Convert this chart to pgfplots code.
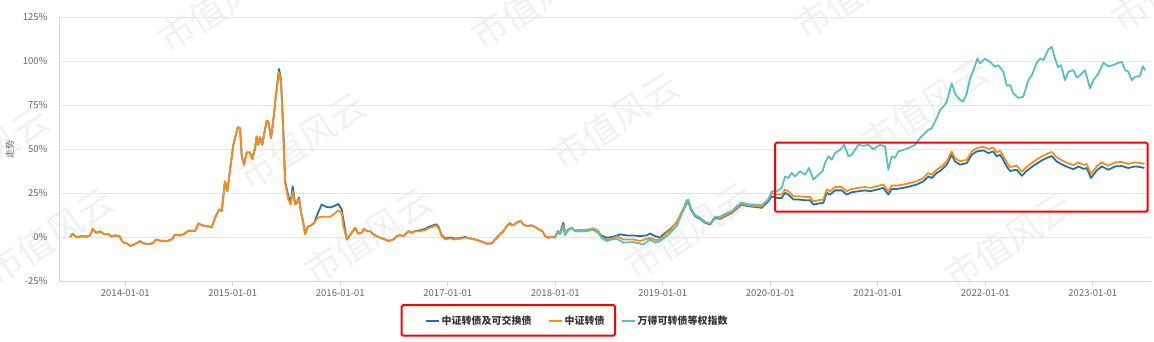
\documentclass[border=0pt]{standalone}
\usepackage{fontspec}
\setmainfont{Noto Sans CJK SC}
\usepackage{pgfplots}
\pgfplotsset{compat=1.18}
\definecolor{cblue}{RGB}{38,113,164}
\definecolor{corange}{RGB}{246,142,30}
\definecolor{ccyan}{RGB}{92,190,190}
\definecolor{gridc}{RGB}{230,230,230}
\definecolor{axisc}{RGB}{204,214,235}
\definecolor{labc}{RGB}{102,102,102}
\definecolor{legc}{RGB}{51,51,51}
\definecolor{wmc}{RGB}{241,241,241}
\begin{document}
\begin{tikzpicture}
\useasboundingbox (0pt,0pt) rectangle (1154pt,-342pt);
\begin{scope}
\clip (0pt,0pt) rectangle (1154pt,-342pt);
\foreach \cx/\cy in {222/4, 535/1, 858/-9, 1175/-16, -15/155, 302/141, 615/121, 925/107, 50/236, 368/236, 688/231, 1008/241}{
  \node[rotate=33, font=\fontsize{36}{38}\selectfont, text=wmc, inner sep=0pt] at (\cx pt,-\cy pt) {市值风云};
}
\end{scope}
\begin{axis}[
  at={(59pt,-281pt)}, anchor=south west,
  scale only axis, width=1092pt, height=264pt,
  xmin=2013.383, xmax=2023.541, ymin=-25, ymax=125,
  xtick={2014,2015,2016,2017,2018,2019,2020,2021,2022,2023},
  xticklabels={2014-01-01,2015-01-01,2016-01-01,2017-01-01,2018-01-01,2019-01-01,2020-01-01,2021-01-01,2022-01-01,2023-01-01},
  ytick={-25,0,25,50,75,100,125},
  yticklabels={-25\%,0\%,25\%,50\%,75\%,100\%,125\%},
  ymajorgrids, grid style={draw=gridc, line width=0.8pt},
  axis x line*=bottom, axis y line*=left,
  axis line style={draw=axisc, line width=0.8pt, -},
  tick align=outside, major tick length=5pt,
  xtick style={draw=axisc, line width=0.8pt},
  ytick style={draw=none},
  tick label style={font=\fontsize{9.5}{11}\selectfont, text=labc},
  yticklabel style={xshift=-3pt},
  legend columns=3,
  legend style={at={(0.4744,-0.1515)}, anchor=center, draw=none, fill=none,
    font=\fontsize{10}{12}\selectfont\bfseries, text=legc,
    /tikz/every even column/.append style={column sep=14pt}},
  legend image code/.code={\draw[#1, line width=2pt] (0pt,0pt) -- (13pt,0pt);},
  every axis plot/.append style={line width=1.8pt, line join=round},
]
\addplot[cblue, mark=none] coordinates {
(2013.486,0.0) (2013.511,1.9) (2013.548,-0.2) (2013.594,0.5) (2013.641,0.2) (2013.672,0.9) (2013.697,4.7) (2013.727,2.4) (2013.765,3.2) (2013.802,1.6) (2013.842,1.6) (2013.874,0.2) (2013.904,0.9) (2013.944,0.5) (2013.976,-2.9) (2014.013,-3.6) (2014.044,-5.1) (2014.090,-4.0) (2014.137,-2.3) (2014.167,-3.6) (2014.214,-4.0) (2014.255,-3.6) (2014.286,-1.4) (2014.323,-2.1) (2014.385,-2.3) (2014.432,-1.4) (2014.462,1.3) (2014.509,0.9) (2014.546,1.6) (2014.586,3.6) (2014.618,3.6) (2014.648,3.3) (2014.679,7.7) (2014.711,6.7) (2014.757,6.2) (2014.804,5.6) (2014.834,10.9) (2014.872,15.6) (2014.897,14.7) (2014.927,31.6) (2014.949,26.0) (2014.974,38.2) (2015.005,52.4) (2015.046,62.4) (2015.067,61.8) (2015.083,45.8) (2015.104,41.1) (2015.129,48.0) (2015.160,48.0) (2015.181,44.3) (2015.207,50.5) (2015.222,57.1) (2015.237,52.4) (2015.253,56.7) (2015.274,52.4) (2015.293,59.0) (2015.315,66.1) (2015.330,65.6) (2015.355,56.2) (2015.377,66.5) (2015.399,79.7) (2015.430,95.5) (2015.448,89.5) (2015.470,60.0) (2015.486,32.0) (2015.516,23.0) (2015.539,20.0) (2015.557,28.8) (2015.579,19.0) (2015.600,20.0) (2015.616,22.5) (2015.634,14.0) (2015.656,8.1) (2015.672,1.5) (2015.697,5.8) (2015.727,6.6) (2015.758,8.1) (2015.790,13.5) (2015.827,18.5) (2015.864,17.2) (2015.904,16.8) (2015.941,17.5) (2015.981,18.8) (2016.013,15.6) (2016.028,10.0) (2016.060,-1.4)
(2016.106,2.4) (2016.137,5.3) (2016.167,2.0) (2016.199,2.4) (2016.220,4.7) (2016.246,3.3) (2016.276,3.3) (2016.307,1.5) (2016.339,0.5) (2016.369,-0.4) (2016.416,-1.4) (2016.447,-2.3) (2016.493,-1.4) (2016.525,0.5) (2016.555,1.1) (2016.586,0.5) (2016.633,3.3) (2016.664,2.4) (2016.695,3.3) (2016.741,3.8) (2016.788,4.6) (2016.834,6.0) (2016.890,7.2) (2016.912,6.0) (2016.943,1.0) (2016.974,-0.8) (2017.020,-0.3) (2017.067,-0.9) (2017.113,-0.6) (2017.160,0.0) (2017.207,-0.8) (2017.253,-1.4) (2017.300,-2.3) (2017.330,-2.9) (2017.362,-3.8) (2017.408,-3.6) (2017.446,-1.0) (2017.486,1.5) (2017.516,3.3) (2017.548,6.2) (2017.579,8.1) (2017.594,6.6) (2017.619,7.1) (2017.656,8.7) (2017.681,9.0) (2017.702,7.1) (2017.734,6.2) (2017.780,6.6) (2017.811,5.8) (2017.848,4.3) (2017.879,3.3) (2017.904,0.5) (2017.935,-0.4) (2017.972,0.2) (2017.997,-0.4) (2018.022,3.3) (2018.044,2.4) (2018.074,8.1) (2018.090,2.4) (2018.121,4.3) (2018.153,5.3) (2018.183,3.3) (2018.230,3.3) (2018.276,3.3) (2018.323,3.9) (2018.353,4.3) (2018.400,2.4) (2018.432,0.8) (2018.478,-0.4) (2018.525,0.0) (2018.571,0.8) (2018.602,1.5) (2018.633,1.2) (2018.664,0.9) (2018.726,0.9) (2018.788,0.5) (2018.850,0.9) (2018.881,2.0) (2018.912,0.9) (2018.974,-0.4) (2019.005,1.5) (2019.067,4.3) (2019.129,8.1) (2019.176,13.7) (2019.216,18.4) (2019.237,20.3) (2019.260,15.6) (2019.300,11.8) (2019.346,10.3) (2019.393,8.1) (2019.439,7.1) (2019.486,10.9) (2019.532,10.3) (2019.594,12.2) (2019.641,13.7) (2019.687,16.0) (2019.734,18.4) (2019.795,17.5) (2019.858,17.1) (2019.920,16.6) (2019.981,20.3)
(2020.013,23.1) (2020.060,22.2) (2020.106,22.2) (2020.137,25.1) (2020.167,24.1) (2020.214,21.3) (2020.260,21.3) (2020.323,20.9) (2020.369,20.9) (2020.400,18.4) (2020.447,19.0) (2020.493,19.4) (2020.525,25.1) (2020.555,24.1) (2020.602,26.5) (2020.664,26.5) (2020.711,24.1) (2020.757,25.4) (2020.819,26.0) (2020.881,26.5) (2020.927,26.0) (2020.990,26.9) (2021.051,27.9) (2021.098,24.1) (2021.129,27.3) (2021.176,27.3) (2021.237,27.9) (2021.300,28.8) (2021.362,29.8) (2021.423,31.6) (2021.470,34.4) (2021.501,33.5) (2021.548,36.4) (2021.594,38.2) (2021.641,41.1) (2021.687,46.7) (2021.718,42.9) (2021.765,41.1) (2021.827,42.0) (2021.874,46.7) (2021.920,48.6) (2021.981,49.2) (2022.028,47.7) (2022.074,48.6) (2022.106,45.8) (2022.137,46.7) (2022.165,44.0) (2022.199,40.0) (2022.230,37.5) (2022.292,38.2) (2022.339,34.8) (2022.385,37.6) (2022.447,40.5) (2022.525,43.5) (2022.571,44.9) (2022.618,46.0) (2022.664,42.9) (2022.726,40.8) (2022.772,39.6) (2022.819,38.5) (2022.865,40.1) (2022.912,38.7) (2022.943,39.2) (2022.983,33.5) (2023.036,37.8) (2023.083,40.1) (2023.144,38.2) (2023.207,40.1) (2023.269,40.3) (2023.330,39.2) (2023.393,40.1) (2023.439,39.8) (2023.479,39.2)
};
\addlegendentry{中证转债及可交换债}
\addplot[corange, mark=none] coordinates {
(2013.486,0.0) (2013.511,1.9) (2013.548,-0.2) (2013.594,0.5) (2013.641,0.2) (2013.672,0.9) (2013.697,4.7) (2013.727,2.4) (2013.765,3.2) (2013.802,1.6) (2013.842,1.6) (2013.874,0.2) (2013.904,0.9) (2013.944,0.5) (2013.976,-2.9) (2014.013,-3.6) (2014.044,-5.1) (2014.090,-4.0) (2014.137,-2.3) (2014.167,-3.6) (2014.214,-4.0) (2014.255,-3.6) (2014.286,-1.4) (2014.323,-2.1) (2014.385,-2.3) (2014.432,-1.4) (2014.462,1.3) (2014.509,0.9) (2014.546,1.6) (2014.586,3.6) (2014.618,3.6) (2014.648,3.3) (2014.679,7.7) (2014.711,6.7) (2014.757,6.2) (2014.804,5.6) (2014.834,10.9) (2014.872,15.6) (2014.897,14.7) (2014.927,31.6) (2014.949,26.0) (2014.974,38.2) (2015.005,52.4) (2015.046,62.4) (2015.067,61.8) (2015.083,45.8) (2015.104,41.1) (2015.129,48.0) (2015.160,48.0) (2015.181,44.3) (2015.207,50.5) (2015.222,57.1) (2015.237,52.4) (2015.253,56.7) (2015.274,52.4) (2015.293,59.0) (2015.315,66.1) (2015.330,65.6) (2015.355,56.2) (2015.377,66.5) (2015.399,79.7) (2015.430,93.5) (2015.448,88.0) (2015.470,58.0) (2015.486,30.7) (2015.516,21.3) (2015.539,18.4) (2015.557,26.0) (2015.579,18.4) (2015.600,19.4) (2015.616,21.7) (2015.634,13.7) (2015.656,8.1) (2015.672,1.5) (2015.697,5.8) (2015.727,6.6) (2015.758,8.1) (2015.790,11.0) (2015.827,11.5) (2015.864,11.5) (2015.904,11.5) (2015.941,13.0) (2015.981,15.2) (2016.013,13.7) (2016.028,6.2) (2016.060,-1.4)
(2016.106,2.4) (2016.137,5.3) (2016.167,2.0) (2016.199,2.4) (2016.220,4.7) (2016.246,3.3) (2016.276,3.3) (2016.307,1.5) (2016.339,0.5) (2016.369,-0.4) (2016.416,-1.4) (2016.447,-2.3) (2016.493,-1.4) (2016.525,0.5) (2016.555,1.1) (2016.586,0.5) (2016.633,3.3) (2016.664,2.4) (2016.695,3.3) (2016.741,3.3) (2016.788,3.9) (2016.834,5.3) (2016.890,6.6) (2016.912,5.3) (2016.943,0.5) (2016.974,-1.4) (2017.020,-0.8) (2017.067,-1.4) (2017.113,-1.0) (2017.160,-0.4) (2017.207,-0.8) (2017.253,-1.4) (2017.300,-2.3) (2017.330,-2.9) (2017.362,-3.8) (2017.408,-3.6) (2017.446,-1.0) (2017.486,1.5) (2017.516,3.3) (2017.548,6.2) (2017.579,8.1) (2017.594,6.6) (2017.619,7.1) (2017.656,8.7) (2017.681,9.0) (2017.702,7.1) (2017.734,6.2) (2017.780,6.6) (2017.811,5.8) (2017.848,4.3) (2017.879,3.3) (2017.904,0.5) (2017.935,-0.4) (2017.972,0.2) (2017.997,-0.4) (2018.022,3.3) (2018.044,2.4) (2018.074,6.5) (2018.090,2.4) (2018.121,4.3) (2018.153,5.3) (2018.183,3.3) (2018.230,3.3) (2018.276,3.3) (2018.323,3.9) (2018.353,4.3) (2018.400,2.4) (2018.432,-0.5) (2018.478,-1.4) (2018.525,-1.0) (2018.571,0.5) (2018.633,-1.4) (2018.726,-1.4) (2018.788,-2.3) (2018.881,-0.4) (2018.927,-1.7) (2018.974,-1.4) (2019.036,2.4) (2019.067,3.8) (2019.129,8.6) (2019.176,14.2) (2019.216,18.9) (2019.237,20.8) (2019.260,16.1) (2019.300,12.3) (2019.346,10.8) (2019.393,8.6) (2019.439,7.6) (2019.486,11.4) (2019.532,10.8) (2019.594,12.7) (2019.641,14.2) (2019.687,16.5) (2019.734,18.9) (2019.795,18.0) (2019.858,17.6) (2019.920,17.3) (2019.981,21.5)
(2020.013,25.0) (2020.060,24.1) (2020.106,24.1) (2020.137,27.0) (2020.167,26.0) (2020.214,23.2) (2020.260,23.2) (2020.323,22.8) (2020.369,22.8) (2020.400,20.3) (2020.447,20.9) (2020.493,21.3) (2020.525,27.0) (2020.555,26.0) (2020.602,28.4) (2020.664,28.4) (2020.711,26.0) (2020.757,27.3) (2020.819,27.9) (2020.881,28.4) (2020.927,27.9) (2020.990,28.8) (2021.051,29.8) (2021.098,26.0) (2021.129,29.2) (2021.176,29.2) (2021.237,29.8) (2021.300,30.7) (2021.362,31.7) (2021.423,33.5) (2021.470,36.3) (2021.501,35.4) (2021.548,38.3) (2021.594,40.1) (2021.641,43.0) (2021.687,48.6) (2021.718,44.8) (2021.765,43.0) (2021.827,43.9) (2021.874,48.6) (2021.920,50.5) (2021.981,51.3) (2022.028,50.0) (2022.074,50.9) (2022.106,48.1) (2022.137,49.0) (2022.165,46.3) (2022.199,42.3) (2022.230,39.8) (2022.292,40.5) (2022.339,37.1) (2022.385,39.9) (2022.447,42.8) (2022.525,45.8) (2022.571,47.2) (2022.618,48.3) (2022.664,45.2) (2022.726,43.1) (2022.772,41.9) (2022.819,40.8) (2022.865,42.4) (2022.912,41.0) (2022.943,41.5) (2022.983,35.8) (2023.036,40.1) (2023.083,42.4) (2023.144,40.5) (2023.207,42.4) (2023.269,42.6) (2023.330,41.5) (2023.393,42.4) (2023.439,42.1) (2023.479,41.5)
};
\addlegendentry{中证转债}
\addplot[ccyan, mark=none] coordinates {
(2017.997,0.0) (2018.022,2.5) (2018.044,1.5) (2018.074,5.5) (2018.090,1.0) (2018.121,3.8) (2018.153,5.0) (2018.183,3.8) (2018.230,4.0) (2018.276,4.0) (2018.323,4.5) (2018.353,5.0) (2018.400,3.5) (2018.432,-0.5) (2018.478,-2.3) (2018.525,-1.4) (2018.571,-1.0) (2018.633,-3.2) (2018.726,-2.9) (2018.819,-4.2) (2018.881,-1.4) (2018.927,-3.2) (2018.974,-2.3) (2019.036,0.5) (2019.129,6.2) (2019.176,13.0) (2019.216,20.3) (2019.237,21.3) (2019.260,16.5) (2019.300,12.5) (2019.346,11.0) (2019.393,8.5) (2019.439,7.5) (2019.486,11.5) (2019.532,11.5) (2019.594,13.7) (2019.641,14.5) (2019.687,17.5) (2019.734,19.5) (2019.795,18.5) (2019.858,18.5) (2019.920,18.0) (2019.981,21.3)
(2020.013,26.0) (2020.060,26.0) (2020.106,27.9) (2020.137,34.4) (2020.167,33.5) (2020.199,36.4) (2020.230,34.4) (2020.276,37.3) (2020.323,35.4) (2020.360,39.2) (2020.400,32.6) (2020.447,35.4) (2020.484,37.3) (2020.509,42.0) (2020.540,45.8) (2020.571,43.9) (2020.602,47.7) (2020.648,49.5) (2020.688,52.4) (2020.726,45.8) (2020.757,46.7) (2020.788,49.5) (2020.819,52.4) (2020.865,51.8) (2020.912,52.4) (2020.958,49.9) (2020.974,50.5) (2021.020,52.4) (2021.067,51.4) (2021.098,38.2) (2021.129,45.8) (2021.160,44.9) (2021.191,48.6) (2021.237,49.5) (2021.284,50.5) (2021.346,52.4) (2021.393,56.2) (2021.439,59.0) (2021.470,60.9) (2021.501,61.8) (2021.548,67.5) (2021.579,72.2) (2021.609,74.0) (2021.641,76.9) (2021.687,87.3) (2021.718,81.6) (2021.749,78.8) (2021.795,76.9) (2021.827,81.6) (2021.858,90.1) (2021.895,95.7) (2021.926,101.4) (2021.951,98.6) (2021.997,101.4) (2022.044,99.5) (2022.090,96.7) (2022.121,97.6) (2022.167,93.9) (2022.199,86.0) (2022.230,86.3) (2022.260,81.6) (2022.307,79.0) (2022.353,79.7) (2022.400,89.1) (2022.432,91.9) (2022.478,99.0) (2022.509,101.4) (2022.540,100.5) (2022.586,106.5) (2022.618,108.0) (2022.648,101.4) (2022.676,96.5) (2022.704,97.6) (2022.741,89.1) (2022.772,93.9) (2022.819,94.8) (2022.850,90.5) (2022.881,91.9) (2022.927,94.8) (2022.974,84.5) (2023.005,89.1) (2023.051,92.8) (2023.098,99.0) (2023.144,97.0) (2023.191,97.6) (2023.222,98.6) (2023.269,99.5) (2023.300,94.8) (2023.330,93.9) (2023.362,89.1) (2023.393,91.0) (2023.439,91.5) (2023.464,97.0) (2023.486,94.8)
};
\addlegendentry{万得可转债等权指数}
\end{axis}
\node[rotate=90, font=\fontsize{9}{10}\selectfont, text=labc] at (10pt,-149pt) {走势};
\draw[red, line width=2pt, rounded corners=1.5pt] (775pt,-142.7pt) rectangle (1147.7pt,-211.7pt);
\draw[red, line width=2pt, rounded corners=1.5pt] (401.7pt,-305pt) rectangle (615pt,-335.7pt);
\end{tikzpicture}
\end{document}
